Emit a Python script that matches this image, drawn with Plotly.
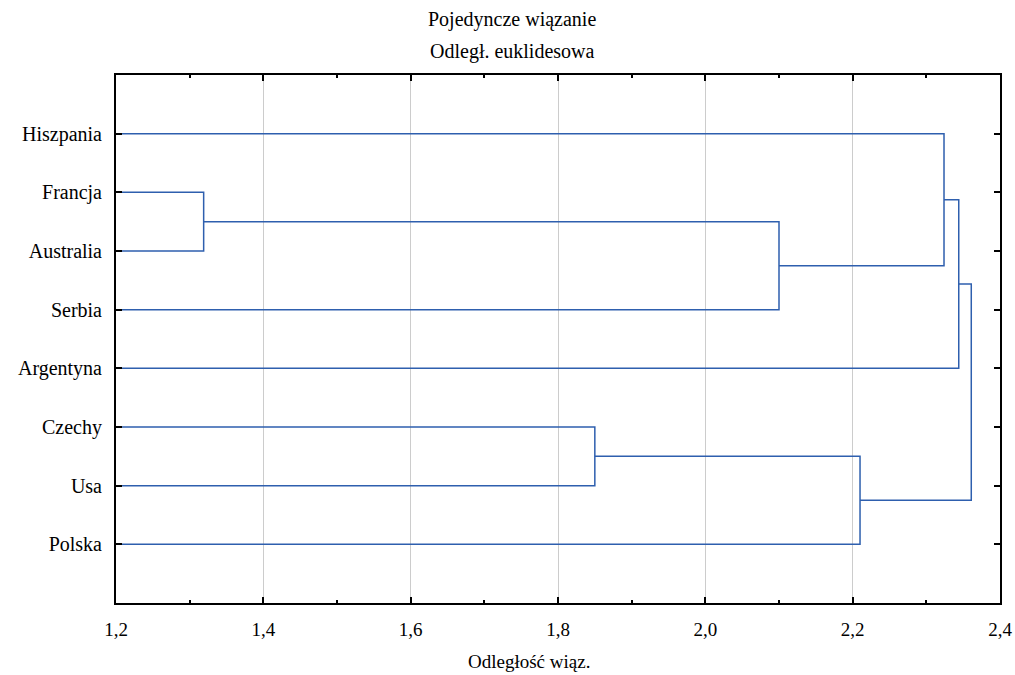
import plotly.graph_objects as go

# Leaves in display order (top to bottom)
leaves = ["Hiszpania", "Francja", "Australia", "Serbia", "Argentyna", "Czechy", "Usa", "Polska"]

# Merges (single linkage, Euclidean distance)
merge_name = ["M1", "M2", "M3", "M4", "M5", "M6", "M7"]
merge_left = ["Francja", "Czechy", "M1", "M2", "Hiszpania", "M5", "M6"]
merge_right = ["Australia", "Usa", "Serbia", "Polska", "M3", "Argentyna", "M4"]
merge_height = [1.319, 1.850, 2.100, 2.210, 2.324, 2.344, 2.361]

x_ticks = [1.2, 1.4, 1.6, 1.8, 2.0, 2.2, 2.4]

# Build dendrogram geometry from data
node_y = {name: i + 1 for i, name in enumerate(leaves)}
node_h = {name: 0.0 for name in leaves}
xs, ys = [], []
for name, a, b, h in zip(merge_name, merge_left, merge_right, merge_height):
    ya, yb = node_y[a], node_y[b]
    xs += [node_h[a], h, h, node_h[b], None]
    ys += [ya, ya, yb, yb, None]
    node_y[name] = (ya + yb) / 2
    node_h[name] = h

FONT = "Liberation Serif"
fig = go.Figure()
fig.add_trace(go.Scatter(x=xs, y=ys, mode="lines",
                         line=dict(color="#2e5fae", width=1.5),
                         hoverinfo="skip", showlegend=False))

fig.update_layout(
    width=1015, height=675,
    margin=dict(l=116, r=15, t=75, b=72, autoexpand=False),
    paper_bgcolor="white", plot_bgcolor="white",
    separators=", ",
    font=dict(family=FONT, size=19, color="black"),
    showlegend=False,
    xaxis=dict(range=[1.2, 2.4], tickvals=x_ticks, tickformat=".1f",
               ticks="inside", ticklen=6, tickwidth=1.5, tickcolor="black",
               showgrid=True, gridcolor="#cccccc", gridwidth=1,
               showline=True, linecolor="black", linewidth=2, mirror="allticks",
               zeroline=False, ticklabelstandoff=8, automargin=False,
               minor=dict(dtick=0.1, ticks="inside", ticklen=3, tickcolor="black", showgrid=False),
               tickfont=dict(family=FONT, size=19)),
    yaxis=dict(range=[9, 0], tickvals=list(range(1, len(leaves) + 1)), ticktext=leaves,
               ticks="inside", ticklen=6, tickwidth=1.5, tickcolor="black",
               showgrid=False, zeroline=False, ticklabelstandoff=8, automargin=False,
               showline=True, linecolor="black", linewidth=2, mirror="ticks",
               tickfont=dict(family=FONT, size=20)),
    annotations=[
        dict(text="Pojedyncze wiązanie", xref="paper", yref="paper",
             x=(512 - 116) / 884, y=1 + (75 - 19) / 528, showarrow=False,
             xanchor="center", yanchor="middle", font=dict(family=FONT, size=20)),
        dict(text="Odległ. euklidesowa", xref="paper", yref="paper",
             x=(512 - 116) / 884, y=1 + (75 - 51) / 528, showarrow=False,
             xanchor="center", yanchor="middle", font=dict(family=FONT, size=20)),
        dict(text="Odległość wiąz.", xref="paper", yref="paper",
             x=(529 - 116) / 884, y=-(661 - 603) / 528, showarrow=False,
             xanchor="center", yanchor="middle", font=dict(family=FONT, size=19)),
    ],
)

fig.write_html("out.html", config={"displayModeBar": False},
               post_script="document.body.style.margin='0';document.body.style.padding='0';")
